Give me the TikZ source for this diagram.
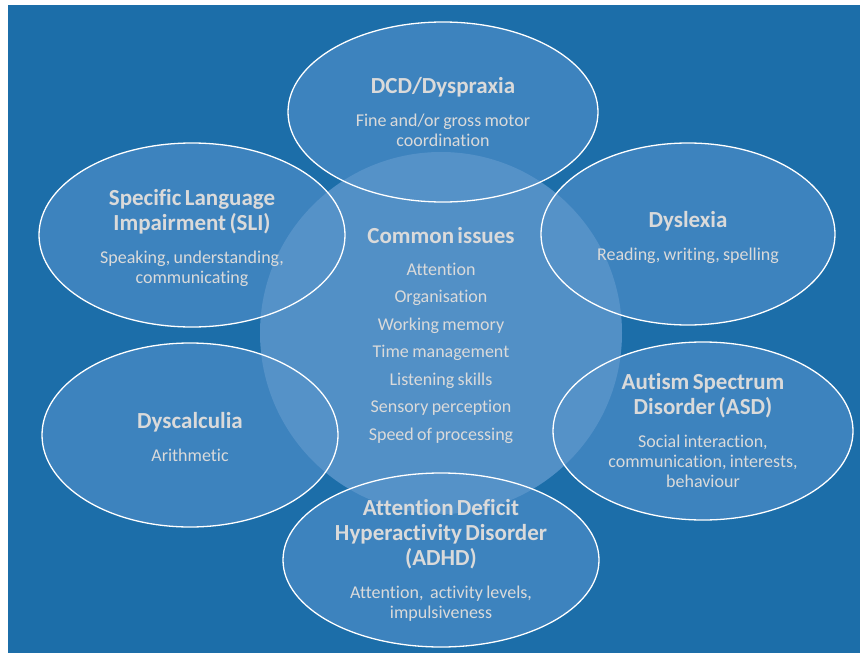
\documentclass[tikz,border=0pt]{standalone}
\usepackage{fontspec}
\setmainfont{Carlito}[Ligatures=CommonOff]
\usetikzlibrary{shapes.geometric}

\definecolor{bgblue}{HTML}{1C6EA9}
\definecolor{ovalblue}{HTML}{3D83BE}
\definecolor{hubblue}{HTML}{5894CA}
\definecolor{txtgrey}{HTML}{DADADA}

\newcommand{\ovaltitle}{\fontsize{23}{25}\selectfont\bfseries}
\newcommand{\ovaltext}{\fontsize{18}{20}\selectfont}
\newcommand{\hublist}{\fontsize{18}{27.5}\selectfont}

\tikzset{
  oval/.style={ellipse, fill=ovalblue, inner sep=0pt},
  ovalline/.style={ellipse, draw=white, line width=1.3pt, inner sep=0pt},
  hub/.style={circle, fill=hubblue, fill opacity=0.9, minimum size=362pt, inner sep=0pt},
  txt/.style={text=txtgrey, align=center, text width=280pt, inner sep=0pt},
}

\begin{document}
\begin{tikzpicture}[x=1pt,y=-1pt]
	\fill[white] (0,0) rectangle (860,653);
	\useasboundingbox (0,0) rectangle (860,653);
	\fill[bgblue] (8,5) rectangle (860,653);
	% the six outer ovals
	\foreach \n/\x/\y/\w/\h in {dcd/443/112/310/180, sli/192/235/306/184, dys/688/234/294/182,
	    calc/190/435/296/184, asd/703/431/300/178, adhd/441/560/316/174}
	  \node[oval, minimum width=\w pt, minimum height=\h pt] (\n) at (\x,\y) {};
	% lighter centre
	\node[hub] (common) at (441,333) {};
	% outlines stay on top
	\foreach \n/\w/\h in {dcd/310/180, sli/306/184, dys/294/182, calc/296/184, asd/300/178, adhd/316/174}
	  \node[ovalline, minimum width=\w pt, minimum height=\h pt] at (\n) {};
	% texts
	\node[txt] (dcdtext) at (dcd) {{\ovaltitle DCD/Dyspraxia\par}\vspace{13pt}{\ovaltext Fine and/or gross motor\\coordination\par}};
	\node[txt] (slitext) at ([yshift=-3pt]sli) {{\ovaltitle Specific Language\\Impairment (SLI)\par}\vspace{13pt}{\ovaltext Speaking, understanding,\\communicating\par}};
	\node[txt] (dystext) at ([yshift=-3pt]dys) {{\ovaltitle Dyslexia\par}\vspace{13pt}{\ovaltext Reading, writing, spelling\par}};
	\node[txt] (calctext) at ([yshift=-2pt]calc) {{\ovaltitle Dyscalculia\par}\vspace{13pt}{\ovaltext Arithmetic\par}};
	\node[txt] (asdtext) at ([yshift=1pt]asd) {{\ovaltitle Autism Spectrum\\Disorder (ASD)\par}\vspace{13pt}{\ovaltext Social interaction,\\communication, interests,\\behaviour\par}};
	\node[txt] (adhdtext) at (adhd) {{\ovaltitle Attention Deficit\\Hyperactivity Disorder\\(ADHD)\par}\vspace{13pt}{\ovaltext Attention,\ \ activity levels,\\impulsiveness\par}};
	\node[txt] (commontext) at ([yshift=-2pt]common) {{\ovaltitle Common issues\par}\vspace{4.5pt}{\hublist Attention\\Organisation\\Working memory\\Time management\\Listening skills\\Sensory perception\\Speed of processing\par}};
\end{tikzpicture}
\end{document}
